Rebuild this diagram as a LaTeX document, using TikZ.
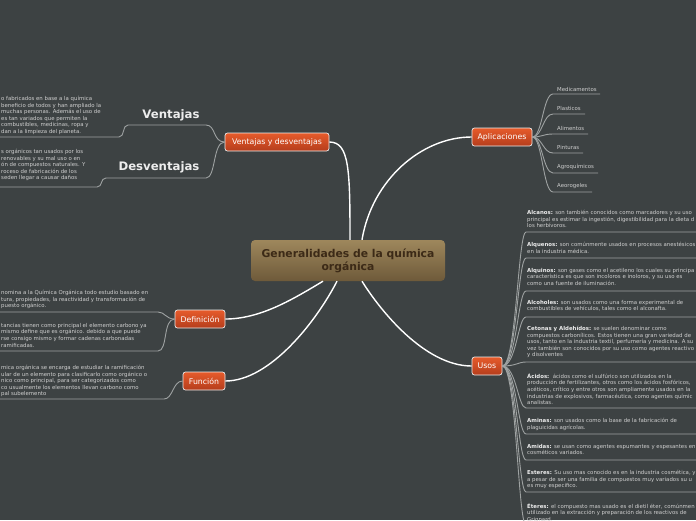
\documentclass[tikz,border=0pt]{standalone}
\usepackage{fontspec}
\setmainfont{DejaVu Sans}
\definecolor{bg}{HTML}{3D4243}
\definecolor{linegray}{HTML}{9EA2A2}
\definecolor{txtgray}{HTML}{CFCFCF}
\definecolor{lblwhite}{HTML}{EDEDED}
\definecolor{topictop}{HTML}{E65B2B}
\definecolor{topicbot}{HTML}{B53D1C}
\definecolor{maintop}{HTML}{9E875C}
\definecolor{mainbot}{HTML}{6E5A3A}
\definecolor{maintext}{HTML}{3C2A17}
\newcommand\mlbl[1]{\textcolor{lblwhite}{\bfseries #1}}
\tikzset{
 central/.style={rounded corners=4pt, top color=maintop, bottom color=mainbot, draw=none, text=maintext,
   font=\bfseries\fontsize{10.8}{13}\selectfont, align=center, minimum width=194pt, minimum height=41pt, inner sep=0pt},
 topic/.style={draw=white!85!gray, line width=0.7pt, rounded corners=2.5pt, top color=topictop, bottom color=topicbot,
   text=white, font=\fontsize{7.8}{9}\selectfont, minimum height=18pt, inner sep=0pt},
 branch/.style={white, line width=1.4pt},
 sub/.style={linegray, line width=0.9pt},
 note/.style={anchor=north west, inner sep=0pt, align=left, text=txtgray, font=\fontsize{5.4}{6.6}\selectfont, execute at begin node=\strut},
 item/.style={anchor=west, inner sep=0pt, text=txtgray, font=\fontsize{5.4}{6.6}\selectfont},
 heading/.style={inner sep=0pt, text=lblwhite, font=\bfseries\fontsize{11.7}{13}\selectfont},
}
\begin{document}
\begin{tikzpicture}[x=1pt,y=-1pt]
\useasboundingbox (0,0) rectangle (696,520);
\fill[bg] (0,0) rectangle (696,520);
\clip (0,0) rectangle (696,520);

% central and topics
\node[central] (c) at (348,260.5) {Generalidades de la química\\orgánica};
\node[topic, minimum width=104pt] (vd) at (277,142) {Ventajas y desventajas};
\node[topic, minimum width=60pt] (ap) at (502,137) {Aplicaciones};
\node[topic, minimum width=50pt] (def) at (200,319) {Definición};
\node[topic, minimum width=42pt] (fun) at (204,381) {Función};
\node[topic, minimum width=30pt] (usos) at (487,366) {Usos};

% main branches
\draw[branch] ([xshift=2pt]c.north) .. controls +(0,-70) and +(20,0) .. (vd.east);
\draw[branch] ([xshift=14pt]c.north) .. controls +(10,-60) and +(-50,0) .. (ap.west);
\draw[branch] ([xshift=-25pt]c.south) .. controls +(-30,18) and +(35,0) .. (def.east);
\draw[branch] ([xshift=-11pt]c.south) .. controls +(-20,39) and +(45,0) .. (fun.east);
\draw[branch] ([xshift=14pt]c.south) .. controls +(18,29) and +(-47,0) .. (usos.west);

% Ventajas / Desventajas
\node[heading] (ven) at (171,115) {Ventajas};
\node[heading] (desv) at (159,167) {Desventajas};
\coordinate (venR) at (206,125); \coordinate (venL) at (128,125);
\coordinate (vbR) at (119,137); \coordinate (vbL) at (-5,137);
\coordinate (desR) at (206,178); \coordinate (desL) at (106,178);
\coordinate (dbR) at (97,187); \coordinate (dbL) at (-5,187);
\draw[sub] (vd.west) .. controls +(-12,0) and +(10,0) .. (venR) -- (venL) .. controls +(-6,0) and +(6,0) .. (vbR) -- (vbL);
\draw[sub] (vd.west) .. controls +(-12,0) and +(10,0) .. (desR) -- (desL) .. controls +(-6,0) and +(6,0) .. (dbR) -- (dbL);
\node[note] (vtxt) at (1,96) {o fabricados en base a la química\\beneficio de todos y han ampliado la\\muchas personas. Además el uso de\\es tan variados que permiten la\\combustibles, medicinas, ropa y\\dan a la limpieza del planeta.};
\node[note] (dtxt) at (1,149) {s orgánicos tan usados por los\\renovables y su mal uso o en\\ón de compuestos naturales. Y\\roceso de fabricación de los\\seden llegar a causar daños};

% Definicion
\coordinate (d1R) at (158,312); \coordinate (d1L) at (-5,312);
\coordinate (d2R) at (158,351); \coordinate (d2L) at (-5,351);
\draw[sub] (def.west) .. controls +(-9,0) and +(7,0) .. (d1R) -- (d1L);
\draw[sub] (def.west) .. controls +(-12,0) and +(10,0) .. (d2R) -- (d2L);
\node[note] (deftxt1) at (1,290) {nomina a la Química Orgánica todo estudio basado en\\tura, propiedades, la reactividad y transformación de\\puesto orgánico.};
\node[note] (deftxt2) at (1,323) {tancias tienen como principal el elemento carbono ya\\mismo define que es orgánico. debido a que puede\\rse consigo mismo y formar cadenas carbonadas\\ramificadas.};

% Funcion
\coordinate (fR) at (164,399); \coordinate (fL) at (-5,399);
\draw[sub] (fun.west) .. controls +(-10,0) and +(9,0) .. (fR) -- (fL);
\node[note] (funtxt) at (1,365) {mica orgánica se encarga de estudiar la ramificación\\ular de un elemento para clasificarlo como orgánico o\\nico como principal, para ser categorizados como\\co usualmente los elementos llevan carbono como\\pal subelemento};

% Aplicaciones
\coordinate (a1L) at (553,94);  \coordinate (a1R) at (600,94);
\coordinate (a2L) at (553,114); \coordinate (a2R) at (585,114);
\coordinate (a3L) at (553,134); \coordinate (a3R) at (588,134);
\coordinate (a4L) at (553,153); \coordinate (a4R) at (583,153);
\coordinate (a5L) at (553,173); \coordinate (a5R) at (598,173);
\coordinate (a6L) at (553,192); \coordinate (a6R) at (592,192);
\foreach \k in {1,...,6}{
  \draw[sub] (ap.east) .. controls +(10,0) and +(-10,0) .. (a\k L) -- (a\k R);
}
\node[item] (i1) at (557,89) {Medicamentos};
\node[item] (i2) at (557,108) {Plasticos};
\node[item] (i3) at (557,128) {Alimentos};
\node[item] (i4) at (557,147) {Pinturas};
\node[item] (i5) at (557,167) {Agroquímicos};
\node[item] (i6) at (557,186) {Aeorogeles};

% Usos
\coordinate (u1L) at (526,232); \coordinate (u1R) at (700,232);
\coordinate (u2L) at (526,258); \coordinate (u2R) at (700,258);
\coordinate (u3L) at (526,291); \coordinate (u3R) at (700,291);
\coordinate (u4L) at (526,317); \coordinate (u4R) at (700,317);
\coordinate (u5L) at (526,362); \coordinate (u5R) at (700,362);
\coordinate (u6L) at (526,408); \coordinate (u6R) at (700,408);
\coordinate (u7L) at (526,434); \coordinate (u7R) at (700,434);
\coordinate (u8L) at (526,460); \coordinate (u8R) at (700,460);
\coordinate (u9L) at (526,492); \coordinate (u9R) at (700,492);
\coordinate (u10L) at (526,525); \coordinate (u10R) at (700,525);
\foreach \k in {1,...,10}{
  \draw[sub] (usos.east) .. controls +(14,0) and +(-8,0) .. (u\k L) -- (u\k R);
}
\node[note] (t1) at (527,210) {\mlbl{Alcanos:} son también conocidos como marcadores y su uso\\principal es estimar la ingestión, digestibilidad para la dieta d\\los herbívoros.};
\node[note] (t2) at (527,242) {\mlbl{Alquenos:} son comúnmente usados en procesos anestésicos\\en la industria médica.};
\node[note] (t3) at (527,268) {\mlbl{Alquinos:} son gases como el acetileno los cuales su principa\\característica es que son incoloros e inoloros, y su uso es\\como una fuente de iluminación.};
\node[note] (t4) at (527,300) {\mlbl{Alcoholes:} son usados como una forma experimental de\\combustibles de vehículos, tales como el alconafta.};
\node[note] (t5) at (527,326) {\mlbl{Cetonas y Aldehídos:} se suelen denominar como\\compuestos carbonílicos. Estos tienen una gran variedad de\\usos, tanto en la industria textil, perfumería y medicina. A su\\vez también son conocidos por su uso como agentes reactivo\\y disolventes};
\node[note] (t6) at (527,373) {\mlbl{Ácidos:}\ \ ácidos como el sulfúrico son utilizados en la\\producción de fertilizantes, otros como los ácidos fosfóricos,\\acéticos, crítico y entre otros son ampliamente usados en la\\industrias de explosivos, farmacéutica, como agentes químic\\analistas.};
\node[note] (t7) at (527,418) {\mlbl{Aminas:} son usados como la base de la fabricación de\\plaguicidas agrícolas.};
\node[note] (t8) at (527,444) {\mlbl{Amidas:} se usan como agentes espumantes y espesantes en\\cosméticos variados.};
\node[note] (t9) at (527,470) {\mlbl{Esteres:} Su uso mas conocido es en la industria cosmética, y\\a pesar de ser una familia de compuestos muy variados su u\\es muy especifico.};
\node[note] (t10) at (527,503) {\mlbl{Éteres:} el compuesto mas usado es el dietil éter, comúnmen\\utilizado en la extracción y preparación de los reactivos de\\Grignard.};
\end{tikzpicture}
\end{document}
